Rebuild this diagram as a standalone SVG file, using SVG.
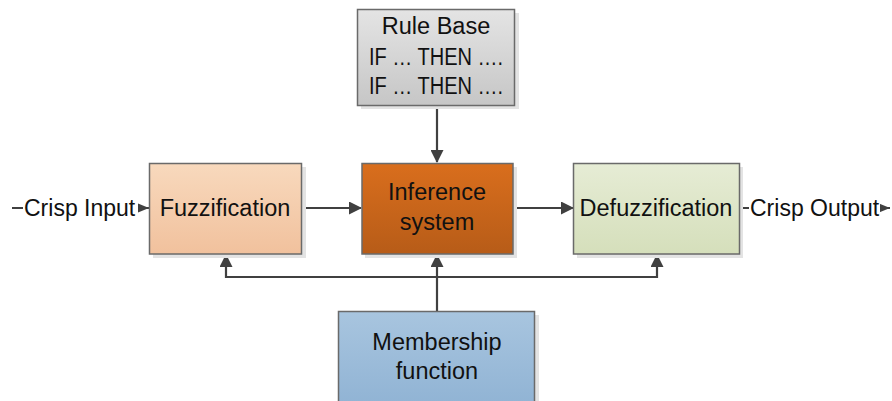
<svg xmlns="http://www.w3.org/2000/svg" width="892" height="401" viewBox="0 0 892 401">
  <defs>
    <linearGradient id="gFuzz" x1="0" y1="0" x2="0" y2="1">
      <stop offset="0" stop-color="#f8d9bd"/>
      <stop offset="1" stop-color="#f1c19d"/>
    </linearGradient>
    <linearGradient id="gInf" x1="0" y1="0" x2="0" y2="1">
      <stop offset="0" stop-color="#d96e1d"/>
      <stop offset="1" stop-color="#b75c18"/>
    </linearGradient>
    <linearGradient id="gDefuzz" x1="0" y1="0" x2="0" y2="1">
      <stop offset="0" stop-color="#e6ecd5"/>
      <stop offset="1" stop-color="#d5dfbb"/>
    </linearGradient>
    <linearGradient id="gRule" x1="0" y1="0" x2="0" y2="1">
      <stop offset="0" stop-color="#e4e4e4"/>
      <stop offset="1" stop-color="#c6c6c6"/>
    </linearGradient>
    <linearGradient id="gMem" x1="0" y1="0" x2="0" y2="1">
      <stop offset="0" stop-color="#a8c5df"/>
      <stop offset="1" stop-color="#90b3d4"/>
    </linearGradient>
    <marker id="arrow" markerWidth="13" markerHeight="13" refX="12" refY="6.5" orient="auto-start-reverse" markerUnits="userSpaceOnUse">
      <path d="M0,0 L13,6.5 L0,13 Z" fill="#404040"/>
    </marker>
    <marker id="arrowSmall" markerWidth="11" markerHeight="10" refX="11" refY="5" orient="auto" markerUnits="userSpaceOnUse">
      <path d="M0,0.5 L11,5 L0,9.5 Z" fill="#404040"/>
    </marker>
  </defs>
  <style>
    .shadow { fill: #e3e3e3; }
    .box { stroke: #6a6a6a; stroke-width: 1.5; }
    .lbl { font-family: "Liberation Sans", Arial, sans-serif; font-size: 23.5px; fill: #111; text-anchor: middle; }
    .lblW { font-family: "Liberation Sans", Arial, sans-serif; font-size: 23px; fill: #111; }
    .conn { fill: none; stroke: #404040; stroke-width: 2.2; }
  </style>

  <rect width="892" height="401" fill="#ffffff"/>

  <!-- connectors -->
  <g id="connectors">
    <line class="conn" x1="12" y1="208" x2="149" y2="208" marker-end="url(#arrowSmall)"/>
    <line class="conn" x1="302" y1="208" x2="361" y2="208" marker-end="url(#arrow)"/>
    <line class="conn" x1="513" y1="208" x2="573" y2="208" marker-end="url(#arrow)"/>
    <line class="conn" x1="740" y1="208" x2="890" y2="208" marker-end="url(#arrowSmall)"/>
    <line class="conn" x1="437" y1="106" x2="437" y2="162" marker-end="url(#arrow)"/>
    <line class="conn" x1="437" y1="311" x2="437" y2="255" marker-end="url(#arrow)"/>
    <polyline class="conn" points="226,255 226,277 657,277 657,255" marker-start="url(#arrow)" marker-end="url(#arrow)"/>
    <!-- label backgrounds over the input/output lines -->
    <rect x="23" y="192" width="115" height="30" fill="#ffffff"/>
    <rect x="749" y="192" width="131" height="30" fill="#ffffff"/>
    <text class="lblW" x="24" y="216">Crisp Input</text>
    <text class="lblW" x="750" y="216">Crisp Output</text>
  </g>

  <g id="rule-base">
    <rect class="shadow" x="361" y="13" width="158" height="96"/>
    <rect class="box" x="357.5" y="9.5" width="157" height="96" fill="url(#gRule)"/>
    <text class="lbl" x="436" y="34">Rule Base</text>
    <text class="lbl" x="436" y="65" textLength="134" lengthAdjust="spacingAndGlyphs">IF … THEN ….</text>
    <text class="lbl" x="436" y="94" textLength="134" lengthAdjust="spacingAndGlyphs">IF … THEN ….</text>
  </g>

  <g id="fuzzification">
    <rect class="shadow" x="153" y="167" width="153" height="91"/>
    <rect class="box" x="149.5" y="163.5" width="152" height="90.5" fill="url(#gFuzz)"/>
    <text class="lbl" x="225" y="216">Fuzzification</text>
  </g>

  <g id="inference-system">
    <rect class="shadow" x="365" y="167" width="152" height="91"/>
    <rect class="box" x="362" y="163.5" width="151" height="90.5" fill="url(#gInf)"/>
    <text class="lbl" x="437" y="200">Inference</text>
    <text class="lbl" x="437" y="230">system</text>
  </g>

  <g id="defuzzification">
    <rect class="shadow" x="577" y="167" width="166" height="91"/>
    <rect class="box" x="573.5" y="163.5" width="166" height="90.5" fill="url(#gDefuzz)"/>
    <text class="lbl" x="656" y="216">Defuzzification</text>
  </g>

  <g id="membership-function">
    <rect class="shadow" x="342" y="315" width="197" height="90"/>
    <rect class="box" x="338.5" y="311.5" width="196" height="95" fill="url(#gMem)"/>
    <text class="lbl" x="437" y="350">Membership</text>
    <text class="lbl" x="437" y="379">function</text>
  </g>
</svg>
